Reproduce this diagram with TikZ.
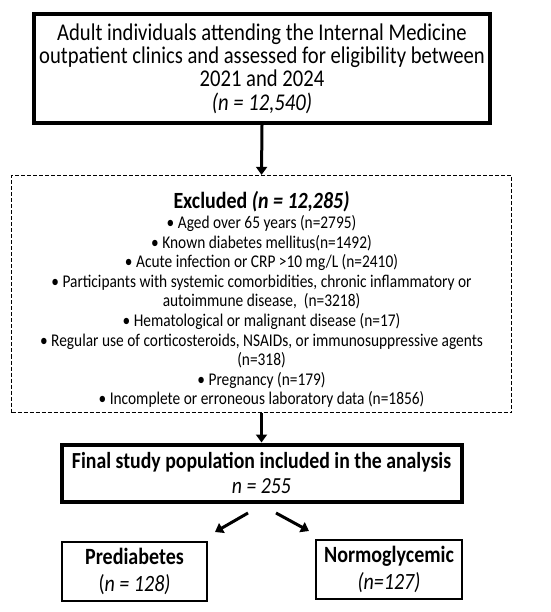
\documentclass[tikz,border=0pt]{standalone}
\usepackage{fontspec}
\setmainfont{Carlito}[FakeStretch=0.86]
\usetikzlibrary{arrows.meta}
\begin{document}
\begin{tikzpicture}[x=1pt,y=-1pt,
  thickbox/.style={draw, line width=4pt, align=center, inner sep=0pt},
  thinbox/.style={draw, line width=2.5pt, align=center, inner sep=0pt},
  dashbox/.style={draw, line width=1.3pt, dash pattern=on 4pt off 2pt, inner sep=0pt},
  flow/.style={line width=3pt, -{Triangle[length=8pt,width=11pt]}},
  toptext/.style={font=\fontsize{24}{23.4}\selectfont},
  itemtext/.style={font=\fontsize{17.9}{19.6}\selectfont, align=center, inner sep=0pt}]
\useasboundingbox (0,0) rectangle (550,612);
\fill[white] (0,0) rectangle (550,612);

\node[thickbox, toptext, minimum width=456pt, minimum height=109pt] (top) at (262,68.5)
  {Adult individuals attending the Internal Medicine\\
   outpatient clinics and assessed for eligibility between\\
   2021 and 2024\\
   \textit{(n = 12,540)}};

\node[dashbox, minimum width=500pt, minimum height=237pt] (excl) at (261.5,294) {};
\node[itemtext] (excltext) at (261.5,299.5)
  {{\fontsize{23.2}{24}\selectfont\bfseries Excluded \textit{(n = 12,285)}}\\[0.5pt]
   \textbullet\ Aged over 65 years (n=2795)\\
   \textbullet\ Known diabetes mellitus(n=1492)\\
   \textbullet\ Acute infection or CRP >10 mg/L (n=2410)\\
   \textbullet\ Participants with systemic comorbidities, chronic inflammatory or\\
   autoimmune disease,\ \ (n=3218)\\
   \textbullet\ Hematological or malignant disease (n=17)\\
   \textbullet\ Regular use of corticosteroids, NSAIDs, or immunosuppressive agents\\
   (n=318)\\
   \textbullet\ Pregnancy (n=179)\\
   \textbullet\ Incomplete or erroneous laboratory data (n=1856)};

\node[thickbox, font=\fontsize{23}{25}\selectfont, minimum width=400pt, minimum height=57pt] (final) at (261.5,473)
  {\textbf{Final study population included in the analysis}\\
   \textit{n = 255}};

\node[thinbox, font=\fontsize{23.3}{27}\selectfont, minimum width=145pt, minimum height=59pt] (pre) at (134.5,571.5)
  {\textbf{Prediabetes}\\(\textit{n = 128)}};

\node[thinbox, font=\fontsize{23.3}{27}\selectfont, minimum width=146pt, minimum height=59pt] (normo) at (389,569.5)
  {\textbf{Normoglycemic}\\\textit{(n=127)}};

\coordinate (l0) at (248,513);
\coordinate (l1) at (215,532);
\coordinate (r0) at (276,513);
\coordinate (r1) at (309,531);

\draw[flow] (top.south) -- (excl.north);
\draw[flow] (excl.south) -- (final.north);
\draw[flow] (l0) -- (l1);
\draw[flow] (r0) -- (r1);
\end{tikzpicture}
\end{document}
